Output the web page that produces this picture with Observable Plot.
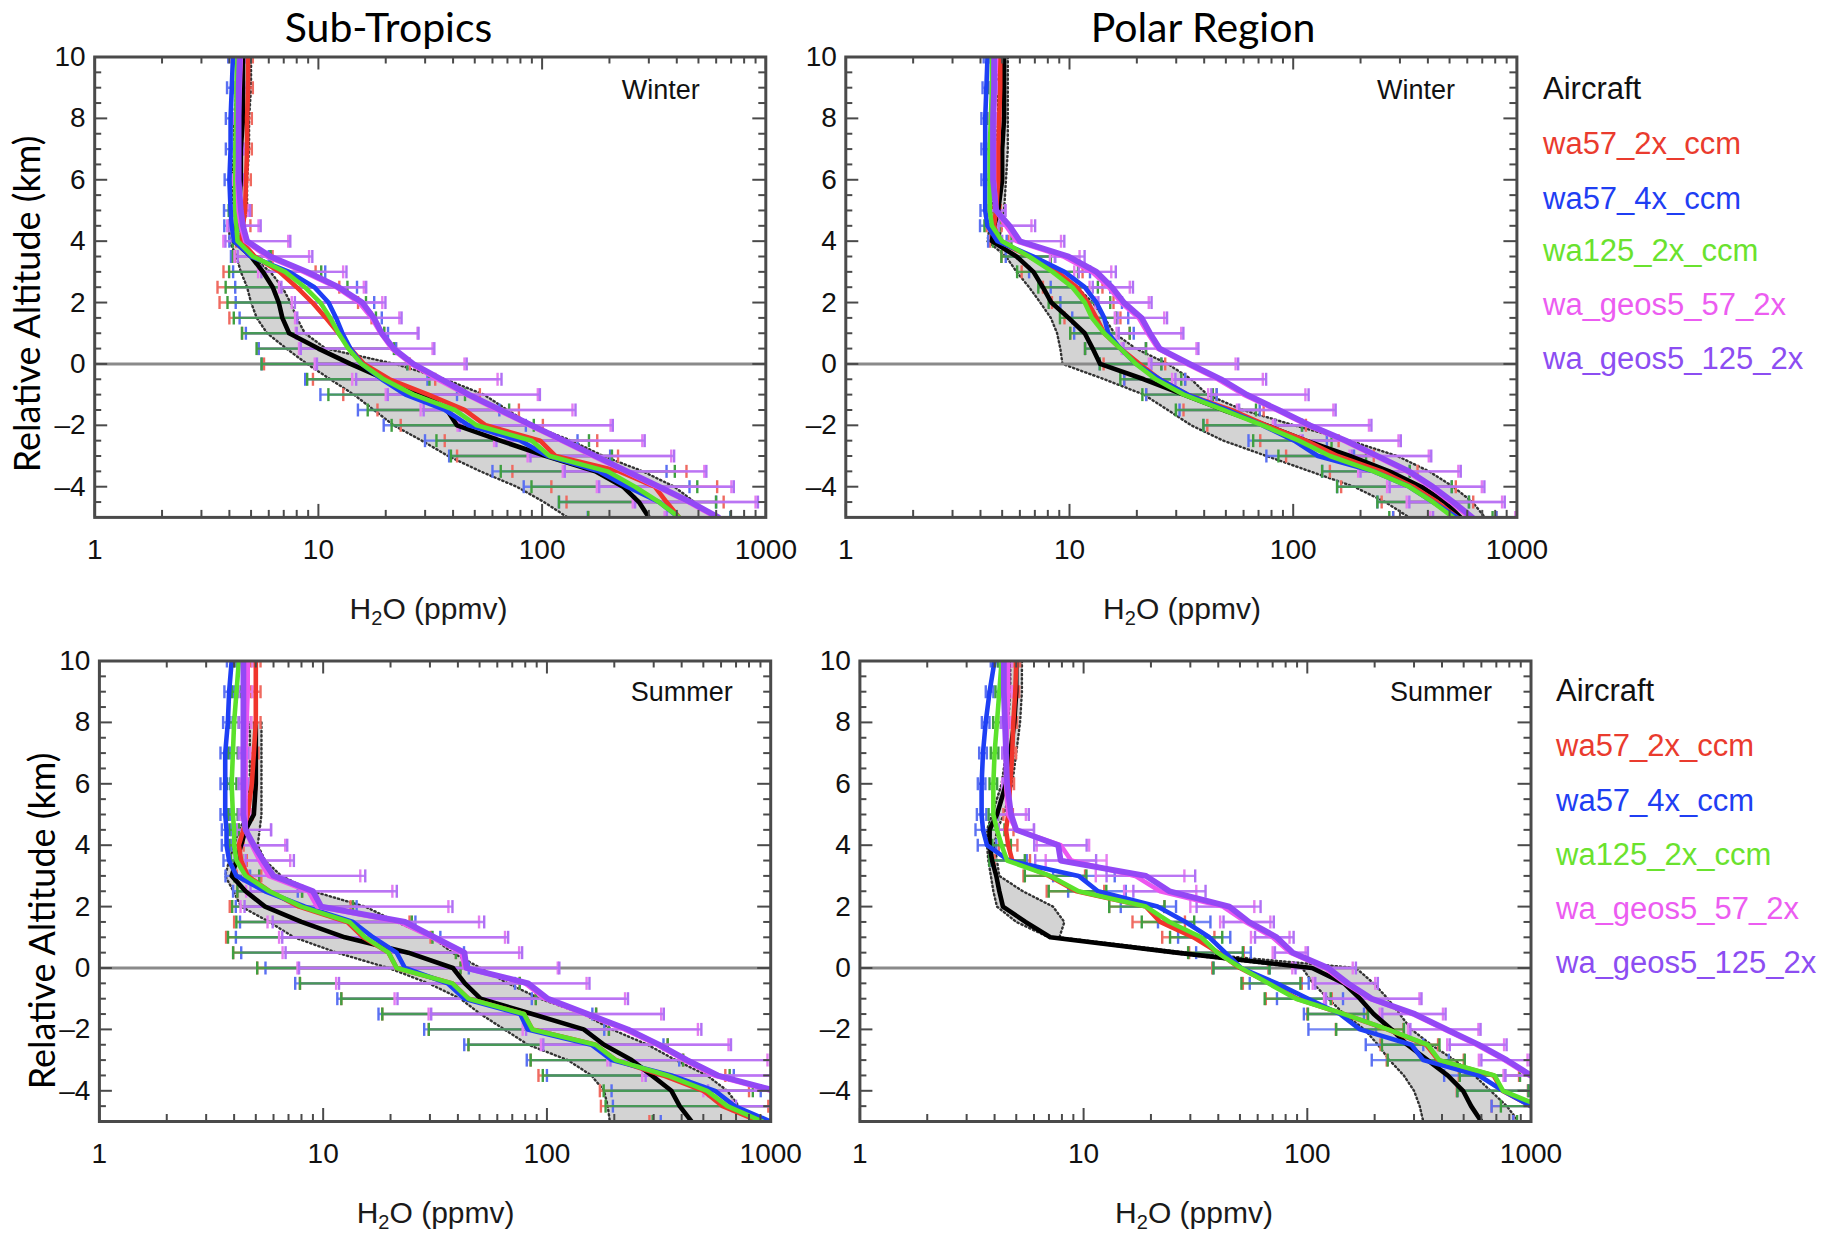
<!DOCTYPE html>
<html><head><meta charset="utf-8">
<script src="https://cdn.jsdelivr.net/npm/d3@7"></script>
<script src="https://cdn.jsdelivr.net/npm/@observablehq/plot@0.6"></script>
<style>
body{margin:0;background:#fff;}
#root{position:relative;width:1846px;height:1234px;overflow:hidden;background:#fff;}
.pane{position:absolute;overflow:hidden;}
.txt{position:absolute;white-space:nowrap;transform:translate(-50%,-50%);line-height:1;color:#000;}
.ttl{font-family:Lato,"Open Sans",sans-serif;font-size:41px;}
.ylab{font-family:Lato,"Open Sans",sans-serif;font-size:36px;transform:translate(-50%,-50%) rotate(-90deg);}
.xlab{font-family:"Liberation Sans",Arial,sans-serif;font-size:30px;color:#1a1a1a;}
.xlab sub{font-size:20px;vertical-align:-6px;line-height:0;}
.leg{position:absolute;font-family:"Liberation Sans",Arial,sans-serif;font-size:31px;white-space:nowrap;line-height:1;}
</style></head><body><div id="root"></div>
<script>
// ---------- shared ----------
const levels = [10, 9, 8, 7, 6, 5, 4.5, 4, 3.5, 3, 2.5, 2, 1.5, 1, 0.5, 0, -0.5, -1, -1.5, -2, -2.5, -3, -3.5, -4, -4.5, -5];
const seriesNames = ["wa57_2x_ccm", "wa57_4x_ccm", "wa125_2x_ccm", "wa_geos5_57_2x", "wa_geos5_125_2x"];
const lineColors = ["#f0352b", "#1e3ff5", "#5be22b", "#ec56f0", "#9348f5"];
const barColors = ["#ef6a60", "#5a70f2", "#3f9f40", "#e57ef0", "#b070f5"];
const legendColors = ["#ea3b2e", "#1f3ef3", "#6ae22e", "#ec5cf1", "#8c4df2"];
const xTickLabels = [1, 10, 100, 1000];
const xMinorTicks = [2, 3, 4, 5, 6, 7, 8, 9, 20, 30, 40, 50, 60, 70, 80, 90, 200, 300, 400, 500, 600, 700, 800, 900];
const yTickLabels = [-4, -2, 0, 2, 4, 6, 8, 10];
const yMinorTicks = [-4.5, -3.5, -3, -2.5, -1.5, -1, -0.5, 0.5, 1, 1.5, 2.5, 3, 3.5, 4.5, 5, 5.5, 6.5, 7, 7.5, 8.5, 9, 9.5];

// ---------- Sub-Tropics, Winter ----------
const stwAircraft = [4.6, 4.6, 4.6, 4.5, 4.5, 4.4, 4.3, 4.2, 5.0, 5.65, 6.25, 6.65, 6.9, 7.4, 10, 13.9, 20, 30, 37.6, 41.6, 65, 104, 173, 230, 271, 300];
const stwAircraftLo = [4.3, 4.3, 4.2, 4.2, 4.1, 4.1, 4.0, 4.0, 4.3, 4.5, 4.8, 5.0, 5.3, 5.9, 7.2, 8.9, 11.3, 14.4, 17.7, 21.7, 29, 38, 53, 77, 102, 130];
const stwAircraftHi = [5.0, 5.0, 4.9, 4.9, 4.8, 4.8, 4.6, 4.4, 5.0, 6.1, 6.9, 7.5, 8.0, 8.7, 10.8, 22, 37, 55, 70, 90, 135, 188, 282, 390, 480, 590];
const stwRed = [4.85, 4.85, 4.8, 4.8, 4.75, 4.7, 4.6, 4.5, 5.2, 6.7, 8.0, 9.4, 10.8, 12.3, 13.9, 16, 20.8, 31, 45, 56, 98, 115, 221, 319, 360, 410];
const stwBlue = [4.15, 4.1, 4.05, 4.05, 4.0, 4.05, 4.1, 4.2, 5.0, 7.4, 9.6, 11.1, 12.0, 12.8, 13.9, 15.6, 19.2, 24.5, 36.8, 47, 80, 106, 180, 240, 333, 408];
const stwGreen = [4.35, 4.3, 4.3, 4.25, 4.25, 4.25, 4.3, 4.35, 5.1, 7.1, 8.7, 10.2, 11.3, 12.3, 13.6, 15.6, 19.6, 26.6, 40.7, 51, 90, 108, 196, 260, 333, 410];
const stwMagenta = [4.5, 4.45, 4.4, 4.4, 4.35, 4.4, 4.5, 4.7, 5.9, 8.6, 12.0, 15.2, 17.3, 19.0, 21.3, 26, 34, 46, 63, 88, 122, 168, 235, 325, 450, 600];
const stwPurple = [4.45, 4.4, 4.4, 4.4, 4.4, 4.5, 4.6, 4.8, 6.1, 8.9, 12.3, 15.7, 17.7, 19.2, 21.7, 26.6, 35.4, 47, 65, 90, 125, 173, 240, 333, 461, 614];
const stwCcmErrLo = [1.05, 1.05, 1.05, 1.05, 1.05, 1.07, 1.08, 1.05, 1.23, 1.78, 2.26, 2.6, 2.7, 2.7, 2.57, 2.8, 2.2, 2.4, 2.45, 2.4, 2.67, 2.76, 3.0, 2.9, 2.8, 2.55];
const stwCcmErrHi = [1.05, 1.05, 1.05, 1.05, 1.05, 1.07, 1.08, 1.05, 1.2, 1.45, 1.55, 1.6, 1.6, 1.6, 1.6, 1.6, 1.6, 1.7, 1.75, 1.8, 1.8, 1.9, 2.0, 1.9, 1.8, 1.7];
const stwGeosErrLo = [1.05, 1.05, 1.05, 1.05, 1.05, 1.08, 1.15, 1.25, 1.4, 1.6, 1.8, 2.0, 2.2, 2.4, 2.6, 2.7, 2.4, 2.3, 2.2, 2.1, 2.0, 1.95, 1.9, 1.85, 1.77, 1.7];
const stwGeosErrHi = [1.05, 1.05, 1.05, 1.05, 1.05, 1.1, 1.2, 1.56, 1.54, 1.5, 1.33, 1.27, 1.33, 1.46, 1.52, 1.73, 1.86, 2.08, 2.17, 2.3, 2.3, 2.25, 2.26, 2.16, 2.0, 1.8];

// ---------- Polar Region, Winter ----------
const pwAircraft = [5.1, 5.1, 5.1, 5.0, 5.0, 4.8, 4.6, 4.5, 5.8, 6.9, 7.6, 8.3, 9.9, 11.7, 12.7, 13.7, 21.5, 32.4, 48.7, 76, 114, 179, 269, 373, 477, 560];
const pwAircraftLo = [4.8, 4.8, 4.8, 4.7, 4.7, 4.5, 4.4, 4.3, 5.2, 5.8, 6.6, 7.4, 8.25, 8.8, 9.1, 9.3, 14.3, 21.5, 27.5, 35, 48.7, 76, 119, 187, 258, 330];
const pwAircraftHi = [5.3, 5.3, 5.3, 5.3, 5.2, 5.1, 5.0, 4.8, 6.6, 8.8, 10.8, 12.7, 14.3, 15.9, 19.8, 27.5, 35, 41.3, 59.6, 101, 179, 292, 405, 519, 633, 720];
const pwRed = [4.9, 4.9, 4.85, 4.8, 4.8, 4.7, 4.6, 4.85, 6.6, 8.8, 10.8, 12.1, 13.2, 14.3, 16.9, 20.6, 25.3, 33.7, 52.7, 76, 114, 158, 248, 344, 440, 540];
const pwBlue = [4.3, 4.25, 4.2, 4.2, 4.2, 4.2, 4.3, 4.76, 6.9, 9.5, 11.7, 13.2, 14.3, 14.9, 16.9, 19.8, 25.3, 33.7, 50.6, 73, 101, 129, 229, 330, 421, 540];
const pwGreen = [4.5, 4.5, 4.45, 4.4, 4.4, 4.4, 4.5, 5.0, 6.6, 8.4, 10.3, 11.7, 12.6, 14.3, 16.9, 19.8, 24.3, 32.4, 48.7, 73, 106, 146, 229, 330, 421, 519];
const pwMagenta = [4.7, 4.65, 4.6, 4.6, 4.6, 4.7, 5.2, 5.8, 9.4, 12.6, 15, 17, 20.4, 22.4, 24.8, 33.5, 46, 60, 84, 116, 168, 232, 322, 410, 505, 615];
const pwPurple = [4.6, 4.6, 4.55, 4.55, 4.55, 4.7, 5.4, 6.0, 9.9, 13.2, 15.5, 17.5, 21, 22.9, 25.3, 34.4, 47.6, 62, 86, 119, 172, 238, 330, 421, 519, 633];
const pwCcmErrLo = [1.04, 1.04, 1.04, 1.04, 1.04, 1.05, 1.08, 1.1, 1.33, 1.44, 1.42, 1.45, 1.39, 1.42, 1.44, 1.45, 1.44, 1.53, 1.63, 1.84, 1.6, 1.7, 1.7, 2.1, 1.77, 1.93];
const pwCcmErrHi = [1.04, 1.04, 1.04, 1.04, 1.04, 1.05, 1.08, 1.1, 1.25, 1.3, 1.3, 1.3, 1.28, 1.3, 1.3, 1.3, 1.3, 1.35, 1.4, 1.5, 1.4, 1.45, 1.45, 1.55, 1.45, 1.5];
const pwGeosErrLo = [1.04, 1.04, 1.04, 1.04, 1.04, 1.08, 1.12, 1.2, 1.15, 1.2, 1.22, 1.3, 1.28, 1.38, 1.45, 1.48, 1.6, 1.44, 1.5, 1.43, 1.56, 1.3, 1.65, 1.56, 1.57, 1.5];
const pwGeosErrHi = [1.04, 1.04, 1.04, 1.04, 1.04, 1.1, 1.3, 1.58, 1.18, 1.22, 1.24, 1.33, 1.3, 1.41, 1.49, 1.65, 1.59, 1.89, 1.8, 1.88, 1.76, 1.74, 1.7, 1.7, 1.7, 1.6];

// ---------- Sub-Tropics, Summer ----------
const stsAircraft = [null, null, 5.0, 5.0, 5.0, 4.9, 4.5, 4.3, 4.1, 3.9, 4.5, 5.5, 8.0, 12.5, 24, 38, 43, 50.5, 86, 146, 180, 239, 294, 360, 392, 443];
const stsAircraftLo = [null, null, 4.7, 4.7, 4.7, 4.6, 4.2, 4.0, 3.8, 3.65, 3.97, 4.3, 5.75, 7.4, 11.5, 19.6, 29.6, 41, 50.5, 64.5, 82.4, 124, 158, 180, 187, 191];
const stsAircraftHi = [null, null, 5.3, 5.3, 5.3, 5.3, 5.2, 5.1, 5.5, 6.5, 9.0, 15.4, 21.3, 30.8, 37.8, 50.5, 67, 93, 146, 195, 282, 376, 520, 640, 720, 850];
const stsRed = [5.0, 5.0, 5.0, 4.9, 4.8, 4.6, 4.4, 4.2, 4.3, 4.6, 5.75, 7.8, 12.8, 15.1, 19.6, 21.3, 37.8, 44.6, 79, 86, 165, 203, 330, 500, 610, 890];
const stsBlue = [3.9, 3.8, 3.75, 3.65, 3.65, 3.65, 3.7, 3.7, 3.8, 4.1, 5.5, 8.3, 13.6, 16.7, 21.3, 23.2, 36, 42.8, 76, 82, 158, 195, 360, 564, 690, 1000];
const stsGreen = [4.2, 4.1, 4.0, 3.95, 3.9, 3.95, 4.0, 4.0, 4.1, 4.5, 5.75, 8.0, 13.1, 15.4, 19.6, 21.3, 37.8, 44.6, 79, 86, 165, 203, 345, 520, 640, 920];
const stsMagenta = [4.6, 4.6, 4.55, 4.5, 4.5, 4.5, 4.5, 4.8, 5.2, 5.7, 8.6, 9.4, 22, 30.5, 41.5, 43, 80, 98, 148, 222, 310, 410, 560, 1000, 1350, 1750];
const stsPurple = [4.4, 4.4, 4.4, 4.4, 4.4, 4.4, 4.5, 4.9, 5.4, 6.0, 9.0, 9.8, 23.2, 31.5, 42.8, 43.7, 82.4, 101, 152, 230, 318, 423, 580, 1050, 1400, 1800];
const stsCcmErrLo = [1.05, 1.05, 1.05, 1.05, 1.05, 1.05, 1.05, 1.05, 1.06, 1.12, 1.39, 2.04, 3.2, 4.1, 4.95, 4.2, 4.8, 3.7, 4.3, 2.9, 3.7, 2.4, 3.6, 2.9, 3.5, 3.1];
const stsCcmErrHi = [1.05, 1.05, 1.05, 1.05, 1.05, 1.05, 1.05, 1.05, 1.06, 1.15, 1.4, 1.7, 1.9, 2.0, 2.0, 1.93, 2.0, 2.0, 2.1, 2.2, 2.1, 2.0, 1.9, 1.6, 1.6, 1.5];
const stsGeosErrLo = [1.05, 1.05, 1.05, 1.05, 1.05, 1.05, 1.1, 1.15, 1.2, 1.3, 1.9, 2.2, 3.9, 4.8, 6.3, 5.6, 7.0, 4.7, 5.0, 2.85, 3.3, 2.2, 2.1, 2.0, 2.0, 2.0];
const stsGeosErrHi = [1.05, 1.05, 1.05, 1.05, 1.05, 1.05, 1.3, 1.41, 1.37, 2.57, 2.37, 3.86, 2.26, 2.13, 1.81, 2.6, 1.88, 2.28, 2.19, 2.13, 2.09, 2.36, 2.2, 2.0, 2.0, 2.0];

// ---------- Polar Region, Summer ----------
const psAircraft = [5.0, 5.0, 4.9, 4.7, 4.5, 4.1, 3.8, 3.8, 3.9, 4.07, 4.2, 4.36, 5.5, 7.1, 26, 105, 146, 172, 198, 238, 280, 345, 424, 497, 540, 600];
const psAircraftLo = [4.7, 4.7, 4.6, 4.5, 4.3, 3.9, 3.7, 3.7, 3.75, 3.85, 3.95, 4.1, 5.0, 7.0, 24, 95, 106, 124, 146, 180, 207, 233, 270, 300, 318, 330];
const psAircraftHi = [5.3, 5.3, 5.2, 5.0, 4.8, 4.4, 4.1, 4.0, 4.1, 4.2, 5.35, 7.3, 8.2, 7.8, 29, 165, 198, 229, 259, 292, 358, 455, 558, 660, 780, 880];
const psRed = [5.0, 4.95, 4.85, 4.8, 4.7, 4.6, 4.5, 4.6, 4.8, 7.0, 9.3, 19, 22, 31, 40, 50, 68, 90, 145, 228, 340, 385, 680, 745, 1000, 1250];
const psBlue = [4.0, 3.8, 3.65, 3.55, 3.5, 3.5, 3.55, 3.7, 4.64, 9.5, 11.6, 21.4, 28.6, 36.5, 43, 50.6, 73, 101, 140, 172, 292, 330, 585, 750, 1000, 1250];
const psGreen = [4.3, 4.2, 4.1, 4.0, 3.95, 3.95, 4.1, 4.3, 4.55, 7.1, 9.5, 19, 24.2, 33.6, 39.6, 50.6, 67, 89, 146, 229, 345, 389, 687, 750, 1100, 1300];
const psMagenta = [4.6, 4.6, 4.55, 4.5, 4.5, 4.6, 5.0, 7.9, 8.8, 17, 22, 42, 53, 70, 84, 120, 148, 190, 295, 410, 570, 760, 980, 1350, 1800, 2400];
const psPurple = [4.4, 4.4, 4.45, 4.5, 4.55, 4.74, 5.0, 7.7, 7.9, 19.0, 24.2, 44.8, 54.9, 73, 86, 124, 152, 194, 303, 419, 585, 780, 1000, 1400, 1900, 2500];
const psCcmErrLo = [1.04, 1.04, 1.04, 1.04, 1.04, 1.05, 1.08, 1.1, 1.2, 1.3, 1.36, 1.46, 1.33, 1.38, 1.35, 1.33, 1.32, 1.38, 1.45, 1.7, 1.6, 1.7, 1.43, 1.6, 1.5, 1.5];
const psCcmErrHi = [1.04, 1.04, 1.04, 1.04, 1.04, 1.05, 1.08, 1.1, 1.2, 1.45, 1.33, 1.21, 1.29, 1.24, 1.3, 1.34, 1.39, 1.43, 1.28, 1.18, 1.13, 1.3, 1.3, 1.3, 1.3, 1.3];
const psGeosErrLo = [1.04, 1.04, 1.04, 1.04, 1.04, 1.15, 1.2, 1.28, 1.3, 1.5, 1.45, 1.4, 1.3, 1.25, 1.2, 1.4, 1.4, 1.6, 1.4, 1.45, 1.35, 1.3, 1.3, 1.3, 1.3, 1.3];
const psGeosErrHi = [1.04, 1.04, 1.04, 1.04, 1.04, 1.2, 1.2, 1.34, 1.44, 1.66, 1.45, 1.38, 1.29, 1.19, 1.17, 1.33, 1.36, 1.67, 1.37, 1.42, 1.33, 1.27, 1.3, 1.3, 1.3, 1.3];

// ---------- drawing ----------
const root = document.getElementById("root");
const capSymbol = {draw(ctx, size) { const r = Math.sqrt(size / Math.PI); ctx.moveTo(0, -r); ctx.lineTo(0, r); }};
const minusFmt = d => d < 0 ? "\u2013" + (-d) : String(d);

function makePanel(p) {
  const plotW = p.width - p.ml - p.mr, plotH = p.height - p.mt - p.mb;
  const blackRows = levels.map((y, i) => ({y, v: p.aircraft[i]})).filter(d => d.v != null);
  const bandRows = levels.map((y, i) => ({y, lo: p.lo[i], hi: p.hi[i]})).filter(d => d.lo != null);
  const errLo = [p.ccmLo, p.ccmLo, p.ccmLo, p.geosLo, p.geosLo];
  const errHi = [p.ccmHi, p.ccmHi, p.ccmHi, p.geosHi, p.geosHi];
  const models = p.models.map((arr, k) => levels.map((y, i) => ({y, v: arr[i], lo: arr[i] / errLo[k][i], hi: arr[i] * errHi[k][i]})));
  const tickStyle = {stroke: "#4a4a4a", strokeWidth: 2};
  const marks = [
    Plot.areaX(bandRows, {y: "y", x1: "lo", x2: "hi", fill: "#d3d3d3", clip: true}),
    Plot.line(bandRows, {x: "lo", y: "y", stroke: "#333", strokeWidth: 2.4, strokeDasharray: "1.3 3", clip: true}),
    Plot.line(bandRows, {x: "hi", y: "y", stroke: "#333", strokeWidth: 2.4, strokeDasharray: "1.3 3", clip: true}),
    Plot.ruleY([0], {stroke: "#8a8a8a", strokeWidth: 3})
  ];
  models.forEach((rows, k) => {
    marks.push(Plot.ruleY(rows, {y: "y", x1: "lo", x2: "hi", stroke: barColors[k], strokeWidth: 2.4, strokeOpacity: 0.85, clip: true}));
    marks.push(Plot.dot(rows, {x: "lo", y: "y", symbol: capSymbol, r: 6.5, stroke: barColors[k], strokeWidth: 2.4, fill: "none", clip: true}));
    marks.push(Plot.dot(rows, {x: "hi", y: "y", symbol: capSymbol, r: 6.5, stroke: barColors[k], strokeWidth: 2.4, fill: "none", clip: true}));
  });
  marks.push(Plot.line(blackRows, {x: "v", y: "y", stroke: "#000", strokeWidth: 4.6, strokeLinejoin: "round", clip: true}));
  models.forEach((rows, k) => {
    marks.push(Plot.line(rows, {x: "v", y: "y", stroke: lineColors[k], strokeWidth: k === 4 ? 5.8 : 4.6, strokeLinejoin: "round", clip: true}));
  });
  // inward ticks on all four sides
  marks.push(
    Plot.ruleX(xTickLabels, {...tickStyle, insetTop: plotH - 13}),
    Plot.ruleX(xTickLabels, {...tickStyle, insetBottom: plotH - 13}),
    Plot.ruleX(xMinorTicks, {...tickStyle, insetTop: plotH - 7}),
    Plot.ruleX(xMinorTicks, {...tickStyle, insetBottom: plotH - 7}),
    Plot.ruleY(yTickLabels, {...tickStyle, insetRight: plotW - 13}),
    Plot.ruleY(yTickLabels, {...tickStyle, insetLeft: plotW - 13}),
    Plot.ruleY(yMinorTicks, {...tickStyle, insetRight: plotW - 7}),
    Plot.ruleY(yMinorTicks, {...tickStyle, insetLeft: plotW - 7}),
    Plot.frame({stroke: "#4a4a4a", strokeWidth: 3}),
    Plot.text([p.season], {frameAnchor: "top-right", text: d => d, dx: p.seasonDx, dy: p.seasonDy, textAnchor: "middle", lineAnchor: "middle", fontSize: 27, fill: "#111"})
  );
  const chart = Plot.plot({
    width: p.width, height: p.height,
    marginLeft: p.ml, marginRight: p.mr, marginTop: p.mt, marginBottom: p.mb,
    style: {fontSize: "28px", fontFamily: "'Liberation Sans', Arial, sans-serif", color: "#111", background: "none", maxWidth: "none"},
    x: {type: "log", domain: [1, 1000], ticks: xTickLabels, tickFormat: d => String(d), tickSize: 0, tickPadding: 22, label: null},
    y: {domain: [-5, 10], ticks: yTickLabels, tickFormat: minusFmt, tickSize: 0, tickPadding: 9, label: null},
    marks
  });
  const div = document.createElement("div");
  div.className = "pane";
  Object.assign(div.style, {left: p.left + "px", top: p.top + "px", width: p.width + "px", height: p.height + "px"});
  div.appendChild(chart);
  root.appendChild(div);
}

makePanel({left: 0, top: 0, width: 800, height: 570, ml: 94.2, mr: 34.7, mt: 56.5, mb: 53.1,
  aircraft: stwAircraft, lo: stwAircraftLo, hi: stwAircraftHi,
  models: [stwRed, stwBlue, stwGreen, stwMagenta, stwPurple],
  ccmLo: stwCcmErrLo, ccmHi: stwCcmErrHi, geosLo: stwGeosErrLo, geosHi: stwGeosErrHi,
  season: "Winter", seasonDx: -105, seasonDy: 33});
makePanel({left: 760, top: 0, width: 810, height: 570, ml: 85.3, mr: 53.6, mt: 56.5, mb: 53.1,
  aircraft: pwAircraft, lo: pwAircraftLo, hi: pwAircraftHi,
  models: [pwRed, pwBlue, pwGreen, pwMagenta, pwPurple],
  ccmLo: pwCcmErrLo, ccmHi: pwCcmErrHi, geosLo: pwGeosErrLo, geosHi: pwGeosErrHi,
  season: "Winter", seasonDx: -101, seasonDy: 33});
makePanel({left: 0, top: 600, width: 805, height: 570, ml: 98.9, mr: 34.8, mt: 60.5, mb: 49,
  aircraft: stsAircraft, lo: stsAircraftLo, hi: stsAircraftHi,
  models: [stsRed, stsBlue, stsGreen, stsMagenta, stsPurple],
  ccmLo: stsCcmErrLo, ccmHi: stsCcmErrHi, geosLo: stsGeosErrLo, geosHi: stsGeosErrHi,
  season: "Summer", seasonDx: -89, seasonDy: 31.5});
makePanel({left: 770, top: 600, width: 815, height: 570, ml: 89.4, mr: 54.5, mt: 60.5, mb: 49,
  aircraft: psAircraft, lo: psAircraftLo, hi: psAircraftHi,
  models: [psRed, psBlue, psGreen, psMagenta, psPurple],
  ccmLo: psCcmErrLo, ccmHi: psCcmErrHi, geosLo: psGeosErrLo, geosHi: psGeosErrHi,
  season: "Summer", seasonDx: -90, seasonDy: 31.5});

// ---------- text ----------
function addText(cls, html, x, y) {
  const d = document.createElement("div");
  d.className = "txt " + cls;
  d.innerHTML = html;
  d.style.left = x + "px"; d.style.top = y + "px";
  root.appendChild(d);
}
addText("ttl", "Sub-Tropics", 388.5, 26);
addText("ttl", "Polar Region", 1203, 26);
addText("ylab", "Relative Altitude (km)", 26, 304);
addText("ylab", "Relative Altitude (km)", 41, 921);
const xTitle = "H<sub>2</sub>O (ppmv)";
addText("xlab", xTitle, 428.5, 609);
addText("xlab", xTitle, 1182, 609);
addText("xlab", xTitle, 435.6, 1213);
addText("xlab", xTitle, 1194, 1213);

const legendLabels = ["Aircraft", ...seriesNames];
const legendFill = ["#111", ...legendColors];
function addLegend(x, baselines) {
  legendLabels.forEach((t, i) => {
    const d = document.createElement("div");
    d.className = "leg";
    d.textContent = t;
    d.style.color = legendFill[i];
    d.style.left = x + "px";
    d.style.top = (baselines[i] - 26.2) + "px";
    root.appendChild(d);
  });
}
addLegend(1543, [99, 154, 209, 261, 315, 369]);
addLegend(1556, [701, 756, 811, 865, 919, 973]);
</script></body></html>
